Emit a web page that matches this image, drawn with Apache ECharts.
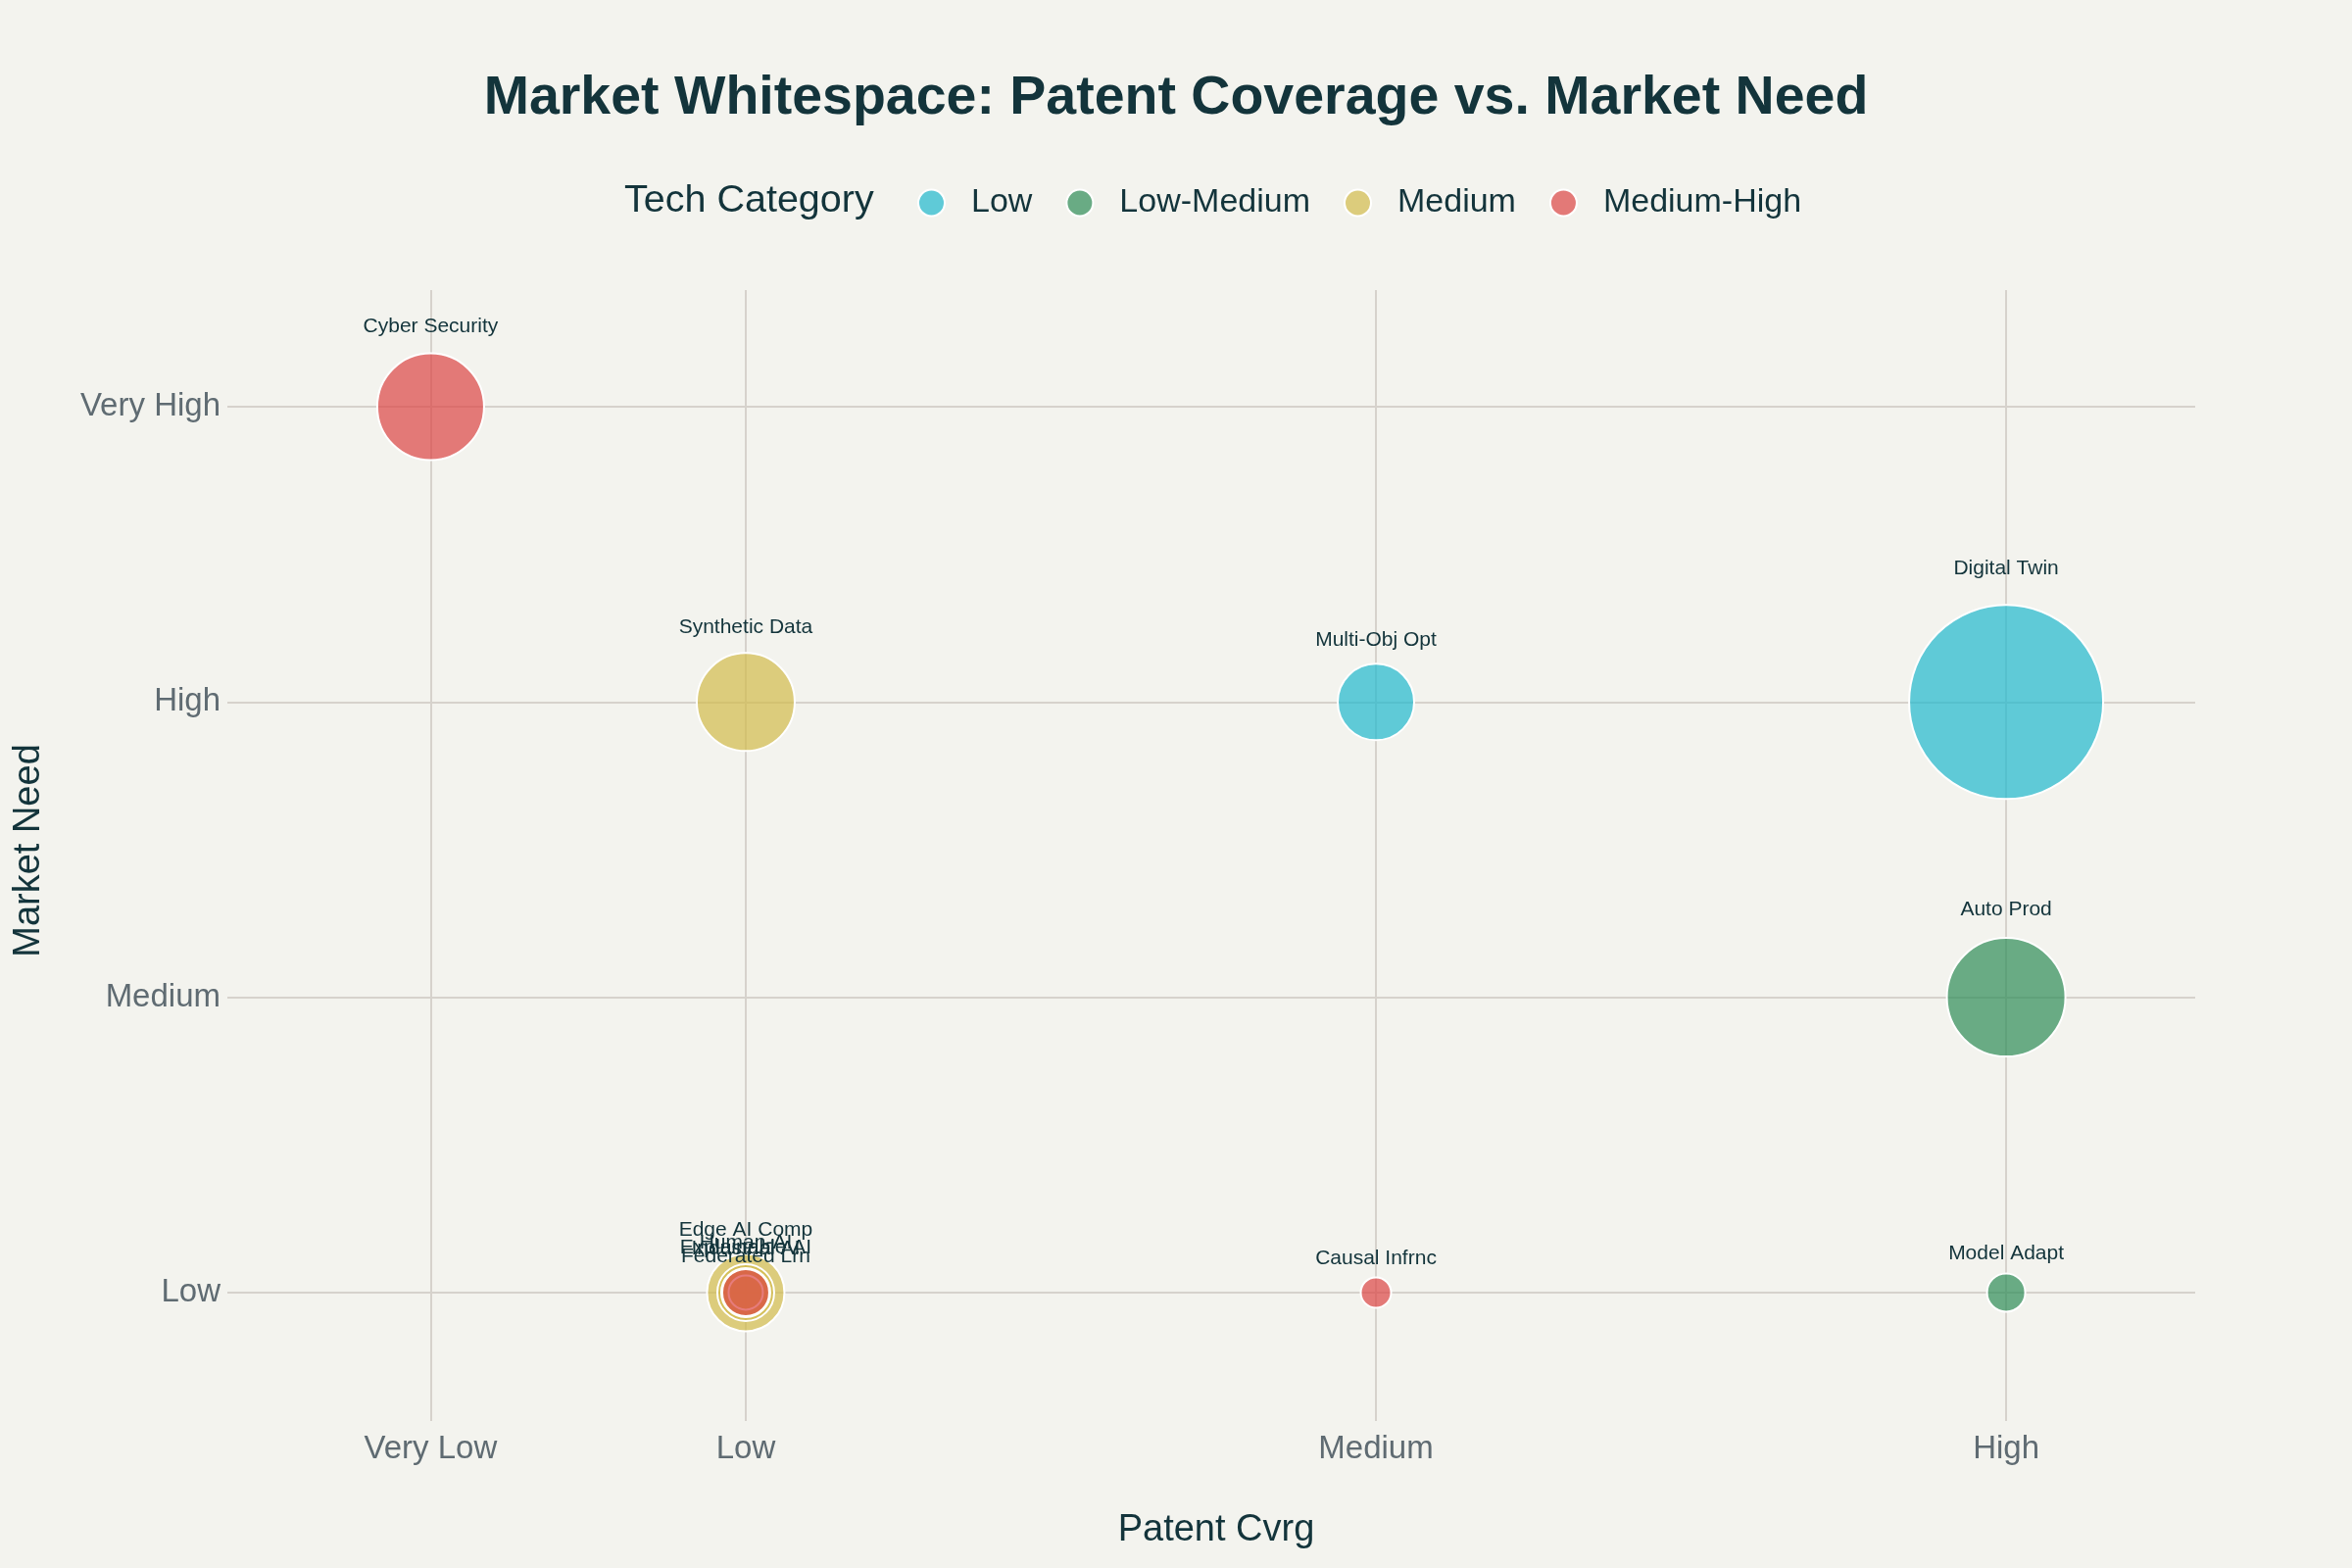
<!DOCTYPE html>
<html>
<head>
<meta charset="utf-8">
<title>Market Whitespace</title>
<script src="https://cdn.jsdelivr.net/npm/echarts@6/dist/echarts.min.js"></script>
<style>
  html, body { margin: 0; padding: 0; background: #F3F3EE; }
  #chart { width: 2400px; height: 1600px; }
</style>
</head>
<body>
<div id="chart"></div>
<script>
// axis levels and where they sit on the scale
var patentLevels = ['Very Low', 'Low', 'Medium', 'High'];
var patentPos = [0.5, 1, 2, 3];
var needLevels = ['Low', 'Medium', 'High', 'Very High'];
var needPos = [1, 2, 3, 4];

var categories = ['Low', 'Low-Medium', 'Medium', 'Medium-High'];
var catColors = ['rgba(31,184,205,0.7)', 'rgba(46,139,87,0.7)', 'rgba(210,186,76,0.7)', 'rgba(219,69,69,0.7)'];

// one entry per technology
var techNames = ['Cyber Security', 'Synthetic Data', 'Multi-Obj Opt', 'Digital Twin', 'Auto Prod',
  'Edge AI Comp', 'Human-AI', 'Explainable AI', 'Federated Lrn', 'Industrial AI', 'Causal Infrnc', 'Model Adapt'];
var techPatent = ['Very Low', 'Low', 'Medium', 'High', 'High',
  'Low', 'Low', 'Low', 'Low', 'Low', 'Medium', 'High'];
var techNeed = ['Very High', 'High', 'High', 'High', 'Medium',
  'Low', 'Low', 'Low', 'Low', 'Low', 'Low', 'Low'];
var techSize = [109, 100, 78, 198, 121, 79, 58, 50, 35, 48, 31, 39];
var techCategory = ['Medium-High', 'Medium', 'Low', 'Low', 'Low-Medium',
  'Medium', 'Medium', 'Medium', 'Medium', 'Medium-High', 'Medium-High', 'Low-Medium'];

var FONT = '"Liberation Sans", Arial, sans-serif';
var DARK = '#13343B';
var GRID = '#D6D2CC';

function xOf(level) { return patentPos[patentLevels.indexOf(level)]; }
function yOf(level) { return needPos[needLevels.indexOf(level)]; }

var series = categories.map(function (cat, ci) {
  var data = [];
  for (var i = 0; i < techNames.length; i++) {
    if (techCategory[i] !== cat) continue;
    data.push({
      name: techNames[i],
      value: [xOf(techPatent[i]), yOf(techNeed[i]), techSize[i]],
      label: { distance: 4 + 0.11 * techSize[i] }
    });
  }
  return {
    name: cat,
    type: 'scatter',
    data: data,
    symbolSize: function (v) { return v[2]; },
    // scatter defaults to opacity 0.8, the alpha is in the colour already
    itemStyle: { color: catColors[ci], opacity: 1, borderColor: '#FFFFFF', borderWidth: 2 },
    label: {
      show: true,
      position: 'top',
      formatter: '{b}',
      color: DARK,
      fontSize: 21,
      fontFamily: FONT
    },
    emphasis: { disabled: true }
  };
});

var chart = echarts.init(document.getElementById('chart'));
var option = {
  backgroundColor: '#F3F3EE',
  animation: false,
  title: {
    text: 'Market Whitespace: Patent Coverage vs. Market Need',
    left: 'center',
    top: 68,
    textStyle: { color: DARK, fontSize: 55.5, fontWeight: 'bold', fontFamily: FONT }
  },
  graphic: [{
    type: 'text',
    x: 637,
    y: 205,
    style: { text: 'Tech Category', fill: DARK, fontSize: 39.5, fontFamily: FONT, verticalAlign: 'middle' }
  }],
  legend: {
    data: categories,
    left: 931,
    top: 182,
    icon: 'circle',
    itemWidth: 27,
    itemHeight: 27,
    itemGap: 34,
    textStyle: { color: DARK, fontSize: 34, fontFamily: FONT, padding: [0, 0, 0, 22], lineHeight: 40 }
  },
  grid: { left: 242, right: 160, top: 296, bottom: 160 },
  xAxis: {
    type: 'value',
    min: 0.193,
    max: 3.30,
    name: 'Patent Cvrg',
    nameLocation: 'middle',
    nameGap: 103,
    nameTextStyle: { color: DARK, fontSize: 38, fontFamily: FONT },
    axisLine: { show: false },
    axisTick: { show: true, length: 10, customValues: patentPos, lineStyle: { color: GRID, width: 2 } },
    axisLabel: {
      customValues: patentPos,
      margin: 22,
      color: '#5F6B72',
      fontSize: 33,
      fontFamily: FONT,
      formatter: function (v) { return patentLevels[patentPos.indexOf(v)]; }
    },
    splitLine: { show: true, lineStyle: { color: GRID, width: 2 } }
  },
  yAxis: {
    type: 'value',
    min: 0.598,
    max: 4.395,
    name: 'Market Need',
    nameLocation: 'middle',
    nameGap: 193,
    nameTextStyle: { color: DARK, fontSize: 38, fontFamily: FONT },
    axisLine: { show: false },
    axisTick: { show: true, length: 10, customValues: needPos, lineStyle: { color: GRID, width: 2 } },
    axisLabel: {
      customValues: needPos,
      margin: 17,
      color: '#5F6B72',
      fontSize: 33,
      fontFamily: FONT,
      formatter: function (v) { return needLevels[needPos.indexOf(v)]; }
    },
    splitLine: { show: true, lineStyle: { color: GRID, width: 2 } }
  },
  series: series
};
chart.setOption(option);
</script>
</body>
</html>
